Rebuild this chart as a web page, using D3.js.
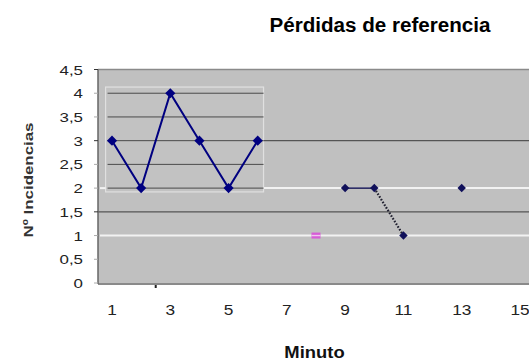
<!DOCTYPE html>
<html><head><meta charset="utf-8">
<script src="https://cdn.jsdelivr.net/npm/d3@7"></script>
<style>body{margin:0;background:#fff}svg{display:block}text{font-family:"Liberation Sans",Arial,sans-serif}</style>
</head><body>
<svg id="c" width="529" height="361"></svg>
<script>
const title = "Pérdidas de referencia";
const xTitle = "Minuto";
const yTitle = "Nº Incidencias";
const yTicks = [0,0.5,1,1.5,2,2.5,3,3.5,4,4.5];
const xTicks = [1,3,5,7,9,11,13,15];
const minutesA = [1,2,3,4,5,6];
const valuesA = [3,2,4,3,2,3];
const minutesB = [9,10,11,13];
const valuesB = [2,2,1,2];
const pinkMinute = [8];
const pinkValue = [1];
const insetGrid = [4,3.5,3,2.5,2];
const darkGrid = [3,1.5];
const whiteGrid = [2,1];

const svg = d3.select("#c");
const x = d3.scaleLinear().domain([1,15]).range([112,520]);
const y = d3.scaleLinear().domain([0,4.5]).range([283,69.5]);
const fmt = v => String(v).replace(".", ",");
const left = 98, right = 529;

// plot area
svg.append("rect").attr("x",left).attr("y",y(4.5)).attr("width",right-left).attr("height",y(0)-y(4.5))
  .attr("fill","#c0c0c0");
svg.append("line").attr("x1",left).attr("x2",right).attr("y1",y(4.5)).attr("y2",y(4.5)).attr("stroke","#8a8a8a").attr("stroke-width",1.5);
svg.append("line").attr("x1",left).attr("x2",right).attr("y1",y(0)+1).attr("y2",y(0)+1).attr("stroke","#8a8a8a").attr("stroke-width",2);

// inset region
const ix0 = x(0.78), ix1 = x(6.2);
svg.append("rect").attr("x",ix0).attr("y",y(4.13)).attr("width",ix1-ix0).attr("height",y(1.92)-y(4.13))
  .attr("fill","#c2c2c2").attr("stroke","#e0e0e0").attr("stroke-width",1.2);

// white lines
svg.selectAll(".wg").data(whiteGrid).join("line")
  .attr("x1",d=> d===2 ? ix1 : left+2).attr("x2",right)
  .attr("y1",d=>y(d)).attr("y2",d=>y(d)).attr("stroke","#f2f2f2").attr("stroke-width",2);
svg.append("line").attr("x1",left+2).attr("x2",ix0).attr("y1",y(2)).attr("y2",y(2)).attr("stroke","#f2f2f2").attr("stroke-width",2);

// inset grid
svg.selectAll(".ig").data(insetGrid).join("line")
  .attr("x1",ix0+2).attr("x2",ix1).attr("y1",d=>y(d)).attr("y2",d=>y(d))
  .attr("stroke","#4a4a4a").attr("stroke-width",1);
// dark full lines
svg.selectAll(".dg").data(darkGrid).join("line")
  .attr("x1",d=> d===3 ? ix1 : left).attr("x2",right)
  .attr("y1",d=>y(d)).attr("y2",d=>y(d)).attr("stroke","#555").attr("stroke-width",1.2);

// y axis
svg.append("line").attr("x1",left).attr("x2",left).attr("y1",y(4.5)).attr("y2",y(0)+1).attr("stroke","#666").attr("stroke-width",1.5);
svg.selectAll(".yt").data(yTicks).join("line")
  .attr("x1",left-4).attr("x2",left).attr("y1",d=>y(d)).attr("y2",d=>y(d))
  .attr("stroke",d=> (d===4.5||d===3||d===1.5) ? "#333" : "#aaa").attr("stroke-width",1);
svg.selectAll(".yl").data(yTicks).join("text")
  .attr("transform",d=>`translate(83,${y(d)+5}) scale(1.25,1)`).attr("text-anchor","end").attr("font-size",13.5).attr("fill","#222")
  .text(fmt);
// x labels
svg.selectAll(".xl").data(xTicks).join("text")
  .attr("transform",d=>`translate(${x(d)},315) scale(1.15,1)`).attr("text-anchor","middle").attr("font-size",15).attr("fill","#222")
  .text(d=>d);
// small dark mark under axis
svg.append("rect").attr("x",x(2.5)-1).attr("y",y(0)+2).attr("width",2).attr("height",3).attr("fill","#222");

// titles
svg.append("text").attr("transform","translate(380,32) scale(1.03,1)").attr("text-anchor","middle").attr("font-size",20).attr("font-weight","bold").attr("fill","#000").text(title);
svg.append("text").attr("transform","translate(314.5,358) scale(1.15,1)").attr("text-anchor","middle").attr("font-size",16).attr("font-weight","bold").attr("fill","#111").text(xTitle);
svg.append("text").attr("transform","translate(33,180) rotate(-90) scale(1.3,1)").attr("text-anchor","middle").attr("font-size",13).attr("font-weight","bold").attr("fill","#333").text(yTitle);

// series A
const ptsA = minutesA.map((m,i)=>[m,valuesA[i]]);
svg.append("path").datum(ptsA).attr("d",d3.line().x(d=>x(d[0])).y(d=>y(d[1])))
  .attr("fill","none").attr("stroke","#000080").attr("stroke-width",2);
svg.selectAll(".ma").data(ptsA).join("rect")
  .attr("x",-3.6).attr("y",-3.6).attr("width",7.2).attr("height",7.2)
  .attr("transform",d=>`translate(${x(d[0])},${y(d[1])}) rotate(45)`)
  .attr("fill","#000080");

// series B
const ptsB = minutesB.map((m,i)=>[m,valuesB[i]]);
svg.append("path").datum(ptsB.slice(0,2)).attr("d",d3.line().x(d=>x(d[0])).y(d=>y(d[1])))
  .attr("fill","none").attr("stroke","#101050").attr("stroke-width",1.5);
svg.append("path").datum(ptsB.slice(1,3)).attr("d",d3.line().x(d=>x(d[0])).y(d=>y(d[1])))
  .attr("fill","none").attr("stroke","#202030").attr("stroke-width",2.2).attr("stroke-dasharray","1.6,1.6");
svg.selectAll(".mb").data(ptsB).join("rect")
  .attr("x",-3).attr("y",-3).attr("width",6).attr("height",6)
  .attr("transform",d=>`translate(${x(d[0])},${y(d[1])}) rotate(45)`)
  .attr("fill","#10105a");

// pink marker
svg.selectAll(".pk").data(pinkMinute).join("g").each(function(m,i){
  const g = d3.select(this);
  g.append("rect").attr("x",x(m)-4.5).attr("y",y(pinkValue[i])-3).attr("width",9).attr("height",6).attr("fill","#d65cd6");
  g.append("rect").attr("x",x(m)-4.5).attr("y",y(pinkValue[i])-0.7).attr("width",9).attr("height",1.4).attr("fill","#f0c8f0");
});
</script>
</body></html>
